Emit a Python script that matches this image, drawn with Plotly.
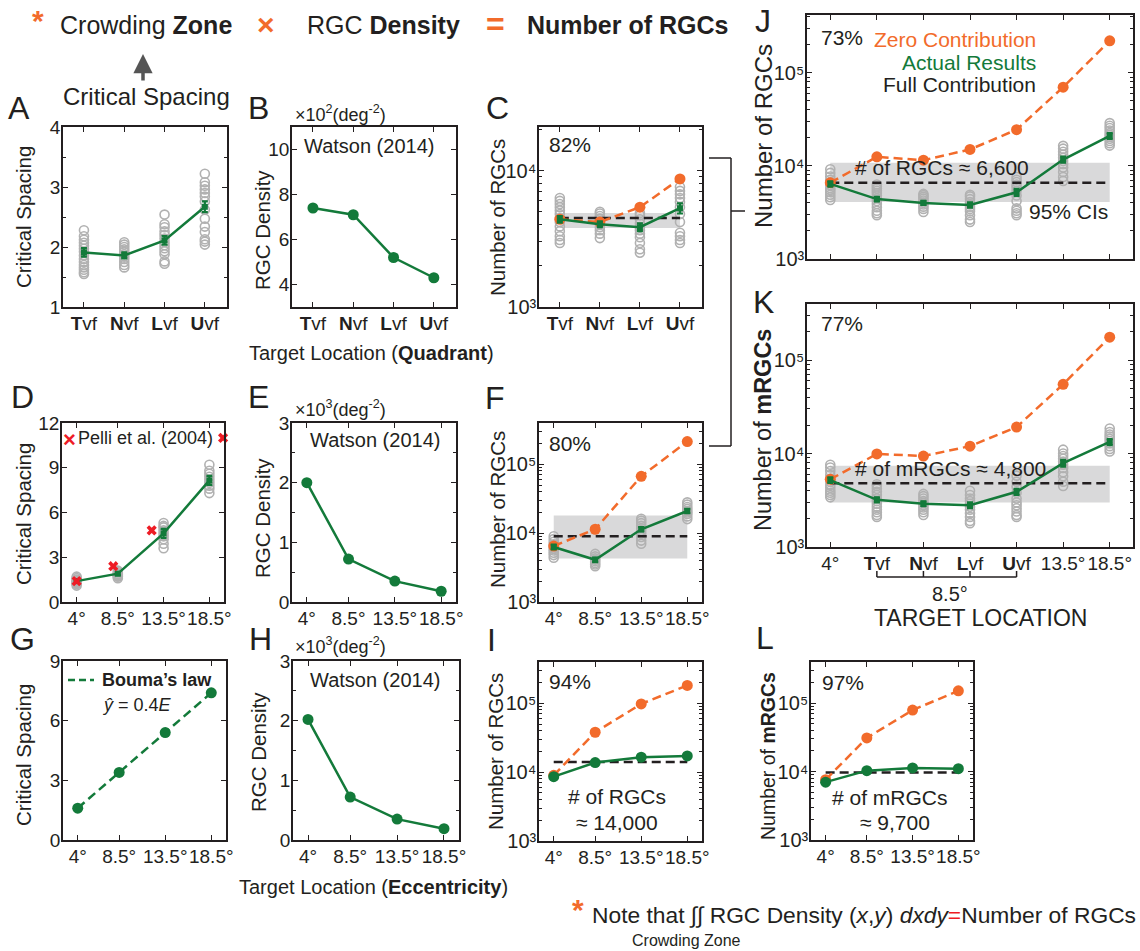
import plotly.graph_objects as go

W, H = 1140, 951
FONT = "Liberation Sans, Arial, Helvetica, sans-serif"
INK = "#231f20"
GREEN = "#137a3a"
ORANGE = "#f26b2b"
GRAY = "#b1b1b1"
BAND = "#d9d9da"
RED = "#ee1c25"

# ---------------- data ----------------
quad_pos = [1, 2, 3, 4]
quad_labels = ["<b>T</b>vf", "<b>N</b>vf", "<b>L</b>vf", "<b>U</b>vf"]
ecc = [4, 8.5, 13.5, 18.5]
ecc_labels = ["4°", "8.5°", "13.5°", "18.5°"]
all_pos = [1, 2, 3, 4, 5, 6, 7]
all_labels = ["4°"] + quad_labels + ["13.5°", "18.5°"]

# A: critical spacing by quadrant (deg)
a_obs = [
    [1.55, 1.58, 1.62, 1.66, 1.70, 1.75, 1.80, 1.86, 1.92, 1.97, 2.02, 2.07, 2.12, 2.18, 2.28],
    [1.66, 1.70, 1.75, 1.80, 1.84, 1.88, 1.92, 1.96, 2.00, 2.04, 2.08],
    [1.72, 1.76, 1.88, 1.93, 1.98, 2.03, 2.08, 2.14, 2.20, 2.26, 2.33, 2.38, 2.54],
    [2.04, 2.09, 2.13, 2.25, 2.34, 2.47, 2.62, 2.76, 2.84, 2.90, 2.96, 3.02, 3.08, 3.22],
]
a_mean = [1.91, 1.86, 2.11, 2.67]
a_err = [0.07, 0.05, 0.07, 0.09]

# B: RGC density by quadrant (x10^2 deg^-2)
b_density = [7.4, 7.1, 5.2, 4.3]

# C: number of RGCs by quadrant
c_obs = [
    [2950, 3100, 3300, 3600, 3900, 4200, 4500, 4800, 5100, 5400, 5700, 6000, 6300],
    [3200, 3450, 3650, 3850, 4050, 4250, 4450, 4650, 4850, 5000],
    [2500, 2650, 2950, 3250, 3450, 3650, 3850, 4100, 4400, 4700, 4900],
    [2950, 3100, 3300, 3500, 4200, 4800, 5400, 5900, 6300, 6700, 7100, 7600],
]
c_mean = [4400, 4050, 3850, 5300]
c_err = [250, 200, 250, 450]
c_zero = [4400, 4200, 5400, 8700]
c_bench = 4500
c_ci = [3800, 4900]

# D: critical spacing by eccentricity (deg)
d_obs = [
    [1.10, 1.20, 1.25, 1.30, 1.35, 1.40, 1.50, 1.60, 1.70],
    [1.60, 1.70, 1.75, 1.80, 1.85, 1.90, 2.00, 2.10],
    [3.60, 3.90, 4.20, 4.40, 4.60, 4.80, 5.00, 5.10, 5.30],
    [7.30, 7.60, 7.80, 8.00, 8.20, 8.40, 8.60, 8.80, 9.20],
]
d_mean = [1.40, 1.90, 4.60, 8.15]
d_err = [0.12, 0.10, 0.30, 0.30]
pelli_ecc = [4, 8, 12.2, 20]
pelli_spacing = [1.4, 2.4, 4.8, 11.0]

# E / H: RGC density by eccentricity (x10^3 deg^-2)
e_density = [2.0, 0.72, 0.35, 0.18]
h_density = [2.02, 0.72, 0.35, 0.19]

# F: number of RGCs by eccentricity
f_obs = [
    [4400, 4800, 5200, 5600, 6000, 6400, 6900, 7500, 8200, 9000],
    [3300, 3500, 3700, 3900, 4100, 4300, 4600, 5000],
    [7000, 7800, 8800, 9800, 10800, 11800, 12800, 14000, 15200, 16200],
    [16000, 17500, 19000, 20000, 21000, 22500, 24000, 26000, 28000],
]
f_mean = [6300, 4100, 11400, 21000]
f_err = [500, 300, 800, 1500]
f_zero = [6500, 11400, 67000, 214000]
f_bench = 9000
f_ci = [4300, 18000]

# G: Bouma's law
g_bouma = [1.6, 3.4, 5.4, 7.4]

# I: number of RGCs (Bouma)
i_zero = [9000, 38000, 98000, 182000]
i_actual = [8600, 13800, 16500, 17200]
i_bench = 14000

# J: number of RGCs, all locations
j_obs = [
    [4300, 4600, 4900, 5200, 5500, 5800, 6200, 6600, 7100, 7700, 8400, 9200],
] + c_obs + [
    [6900, 7600, 8600, 9600, 10500, 11300, 12200, 13200, 14200, 15300, 16400],
    [16500, 17500, 18500, 19500, 20500, 21500, 22500, 24000, 25500, 27000, 28800],
]
j_mean = [6400, 4400, 4000, 3800, 5200, 11700, 21000]
j_err = [400, 250, 200, 250, 450, 900, 1500]
j_zero = [6600, 12500, 11500, 15000, 24500, 70000, 220000]
j_bench = 6600
j_ci = [4100, 10800]

# K: number of mRGCs, all locations
k_obs = [
    [3400, 3600, 3800, 4000, 4300, 4600, 5000, 5400, 5900, 6500, 7100, 7600],
    [2100, 2200, 2350, 2500, 2700, 2900, 3100, 3300, 3600, 3900, 4200, 4500, 4700],
    [2200, 2350, 2500, 2650, 2800, 2950, 3100, 3300, 3500, 3700],
    [1800, 1900, 2100, 2300, 2500, 2700, 2900, 3100, 3300, 3600, 4000],
    [2100, 2200, 2400, 2600, 2800, 3000, 3300, 3800, 4400, 5000, 5800],
    [4500, 5000, 5700, 6300, 7000, 7600, 8200, 8800, 9400, 10000, 11000],
    [10500, 11200, 12000, 12800, 13600, 14400, 15200, 16000, 17000, 18500],
]
k_mean = [5200, 3200, 2900, 2800, 3900, 7900, 13300]
k_err = [350, 200, 170, 200, 300, 650, 1000]
k_zero = [5300, 9900, 9400, 12000, 19200, 55000, 176000]
k_bench = 4800
k_ci = [3000, 7400]

# L: number of mRGCs (Bouma)
l_zero = [7600, 31000, 79000, 151000]
l_actual = [7000, 10300, 11300, 11000]
l_bench = 9700

LOGV = [1e3, 1e4, 1e5]
LOGT = ["10³", "10⁴", "10⁵"]

# ---------------- layout helpers ----------------
boxes = {
    1: (63, 227, 127, 307), 2: (292, 456, 127, 307), 3: (539, 702, 127, 307),
    4: (62, 224, 423, 602), 5: (292, 456, 423, 602), 6: (539, 702, 423, 602),
    7: (63, 226, 661, 840), 8: (293, 459, 661, 840), 9: (539, 702, 662, 841),
    10: (807, 1133, 15, 259), 11: (807, 1133, 304, 547), 12: (811, 973, 662, 840),
}

fig = go.Figure()


def px(x):
    return x / W


def py(y):
    return 1 - y / H


def ax_names(i):
    s = "" if i == 1 else str(i)
    return "x" + s, "y" + s, "xaxis" + s, "yaxis" + s


def common():
    return dict(showline=True, linecolor=INK, linewidth=1.5, mirror="ticks",
                ticks="inside", ticklen=5, tickwidth=1.2, tickcolor=INK,
                showgrid=False, zeroline=False, tickangle=0,
                tickfont=dict(size=19, color=INK, family=FONT))


def log_minor(lo, hi):
    return [m * 10 ** e for e in range(3, 6) for m in range(2, 10) if lo <= m * 10 ** e <= hi]


def set_axes(i, xrange, yrange, xvals, xtext, yvals, ytext=None, ylog=False,
             yminor=None, ysuffix="", xlabels=True):
    xn, yn, xk, yk = ax_names(i)
    x0, x1, y0, y1 = boxes[i]
    xa = common()
    xa.update(domain=[px(x0), px(x1)], range=xrange, anchor=yn,
              tickmode="array", tickvals=xvals, ticktext=xtext,
              showticklabels=xlabels, ticklabelstandoff=-2)
    ya = common()
    ya.update(domain=[py(y1), py(y0)], range=yrange, anchor=xn,
              type="log" if ylog else "linear", tickmode="array",
              tickvals=yvals, ticksuffix=ysuffix, ticklabelstandoff=-3)
    if ylog:
        ya["tickfont"] = dict(size=20, color=INK, family=FONT)
    if ytext is not None:
        ya["ticktext"] = ytext
    if yminor is not None:
        ya["minor"] = dict(tickmode="array", tickvals=yminor, ticks="inside",
                           ticklen=3, tickwidth=1, tickcolor=INK)
    fig.update_layout({xk: xa, yk: ya})


def add(tr, i):
    xn, yn, _, _ = ax_names(i)
    tr.update(xaxis=xn, yaxis=yn, showlegend=False, hoverinfo="skip")
    fig.add_trace(tr)


def obs_trace(pos, groups, i):
    xs, ys = [], []
    for p, g in zip(pos, groups):
        xs += [p] * len(g)
        ys += g
    add(go.Scatter(x=xs, y=ys, mode="markers",
                   marker=dict(symbol="circle-open", size=9, color=GRAY,
                               line=dict(width=1.6, color=GRAY))), i)


def band_trace(xa, xb, ci, i):
    add(go.Scatter(x=[xa, xb, xb, xa], y=[ci[0], ci[0], ci[1], ci[1]],
                   mode="none", fill="toself", fillcolor=BAND), i)


def bench_trace(xa, xb, v, i):
    add(go.Scatter(x=[xa, xb], y=[v, v], mode="lines",
                   line=dict(color=INK, width=2.5, dash="9px,5px")), i)


def zero_trace(x, y, i):
    add(go.Scatter(x=x, y=y, mode="lines+markers",
                   line=dict(color=ORANGE, width=2.5, dash="9px,5px"),
                   marker=dict(symbol="circle", size=11, color=ORANGE)), i)


def mean_trace(x, y, err, i):
    add(go.Scatter(x=x, y=y, mode="lines+markers",
                   line=dict(color=GREEN, width=2.5),
                   marker=dict(symbol="square", size=6, color=GREEN),
                   error_y=dict(type="data", array=err, color=GREEN,
                                thickness=2.2, width=3)), i)


def dot_trace(x, y, i, dash=None):
    add(go.Scatter(x=x, y=y, mode="lines+markers",
                   line=dict(color=GREEN, width=2.5, dash=dash),
                   marker=dict(symbol="circle", size=11, color=GREEN)), i)


QX = [0.48, 4.55]
EX = [2.4, 20.1]

# A
set_axes(1, QX, [1, 4], quad_pos, quad_labels, [1, 2, 3, 4], ysuffix="°",
         yminor=[1.5, 2.5, 3.5])
obs_trace(quad_pos, a_obs, 1)
mean_trace(quad_pos, a_mean, a_err, 1)

# B
set_axes(2, QX, [3, 11], quad_pos, quad_labels, [4, 6, 8, 10])
dot_trace(quad_pos, b_density, 2)

# C
set_axes(3, QX, [3, 4.32], quad_pos, quad_labels, LOGV[:2], LOGT[:2], ylog=True,
         yminor=log_minor(1e3, 2.1e4))
band_trace(quad_pos[0], quad_pos[-1], c_ci, 3)
obs_trace(quad_pos, c_obs, 3)
bench_trace(quad_pos[0], quad_pos[-1], c_bench, 3)
zero_trace(quad_pos, c_zero, 3)
mean_trace(quad_pos, c_mean, c_err, 3)

# D
set_axes(4, EX, [0, 12], ecc, ecc_labels, [0, 3, 6, 9, 12], ysuffix="°")
obs_trace(ecc, d_obs, 4)
mean_trace(ecc, d_mean, d_err, 4)
add(go.Scatter(x=pelli_ecc, y=pelli_spacing, mode="markers", cliponaxis=False,
               marker=dict(symbol="x", size=9, color=RED, line=dict(width=0))), 4)

# E
set_axes(5, EX, [0, 3], ecc, ecc_labels, [0, 1, 2, 3], yminor=[0.5, 1.5, 2.5])
dot_trace(ecc, e_density, 5)

# F
set_axes(6, EX, [3, 5.6], ecc, ecc_labels, LOGV, LOGT, ylog=True,
         yminor=log_minor(1e3, 4e5))
band_trace(ecc[0], ecc[-1], f_ci, 6)
obs_trace(ecc, f_obs, 6)
bench_trace(ecc[0], ecc[-1], f_bench, 6)
zero_trace(ecc, f_zero, 6)
mean_trace(ecc, f_mean, f_err, 6)

# G
set_axes(7, EX, [0, 9], ecc, ecc_labels, [0, 3, 6, 9], ysuffix="°")
dot_trace(ecc, g_bouma, 7, dash="9px,5px")

# H
set_axes(8, EX, [0, 3], ecc, ecc_labels, [0, 1, 2, 3], yminor=[0.5, 1.5, 2.5])
dot_trace(ecc, h_density, 8)

# I
set_axes(9, EX, [3, 5.6], ecc, ecc_labels, LOGV, LOGT, ylog=True,
         yminor=log_minor(1e3, 4e5))
bench_trace(ecc[0], ecc[-1], i_bench, 9)
zero_trace(ecc, i_zero, 9)
dot_trace(ecc, i_actual, 9)

# J
set_axes(10, [0.5, 7.5], [3, 5.62], all_pos, all_labels, LOGV, LOGT, ylog=True,
         yminor=log_minor(1e3, 4e5), xlabels=False)
band_trace(all_pos[0], all_pos[-1], j_ci, 10)
obs_trace(all_pos, j_obs, 10)
bench_trace(all_pos[0], all_pos[-1], j_bench, 10)
zero_trace(all_pos, j_zero, 10)
mean_trace(all_pos, j_mean, j_err, 10)

# K
set_axes(11, [0.5, 7.5], [3, 5.6], all_pos, all_labels, LOGV, LOGT, ylog=True,
         yminor=log_minor(1e3, 4e5))
band_trace(all_pos[0], all_pos[-1], k_ci, 11)
obs_trace(all_pos, k_obs, 11)
bench_trace(all_pos[0], all_pos[-1], k_bench, 11)
zero_trace(all_pos, k_zero, 11)
mean_trace(all_pos, k_mean, k_err, 11)

# L
set_axes(12, EX, [3, 5.6], ecc, ecc_labels, LOGV, LOGT, ylog=True,
         yminor=log_minor(1e3, 4e5))
bench_trace(ecc[0], ecc[-1], l_bench, 12)
zero_trace(ecc, l_zero, 12)
dot_trace(ecc, l_actual, 12)

# ---------------- text ----------------
ann = []


def txt(x, y, text, size=20, color=INK, xa="center", ya="middle", angle=0):
    ann.append(dict(x=px(x), y=py(y), xref="paper", yref="paper", text=text,
                    showarrow=False, xanchor=xa, yanchor=ya, textangle=angle,
                    font=dict(size=size, color=color, family=FONT)))


# panel letters
for letter, x, y in [("A", 19, 108), ("B", 258, 108), ("C", 497, 108),
                     ("D", 22, 397), ("E", 258, 397), ("F", 495, 398),
                     ("G", 22, 639), ("H", 260, 639), ("I", 491, 640),
                     ("J", 763, 21), ("K", 763, 302), ("L", 765, 638)]:
    txt(x, y, letter, size=32)

# header
txt(38, 21, "<b>*</b>", size=30, color=ORANGE)
txt(58, 25, "Crowding <b>Zone</b>", size=25, xa="left")
txt(266, 25, "<b>×</b>", size=30, color=ORANGE)
txt(305, 25, "RGC <b>Density</b>", size=25, xa="left")
txt(495, 24, "<b>=</b>", size=32, color=ORANGE)
txt(525, 25, "<b>Number of RGCs</b>", size=25, xa="left")
txt(146, 96, "Critical Spacing", size=24)
ann.append(dict(x=px(143), y=py(54), xref="paper", yref="paper", ax=0, ay=28,
                axref="pixel", ayref="pixel", showarrow=True, arrowhead=2,
                arrowsize=1.1, arrowwidth=3.5, arrowcolor="#555555", text=""))

# y-axis titles
txt(23, 217, "Critical Spacing", size=20.5, angle=-90)
txt(262, 230, "RGC Density", size=20.5, angle=-90)
txt(497, 218, "Number of RGCs", size=20.5, angle=-90)
txt(23, 514, "Critical Spacing", size=20.5, angle=-90)
txt(262, 518, "RGC Density", size=20.5, angle=-90)
txt(497, 510, "Number of RGCs", size=20.5, angle=-90)
txt(23, 755, "Critical Spacing", size=20.5, angle=-90)
txt(258, 752, "RGC Density", size=20.5, angle=-90)
txt(495, 752, "Number of RGCs", size=20.5, angle=-90)
txt(763, 136, "Number of RGCs", size=24, angle=-90)
txt(763, 430, "Number of <b>mRGCs</b>", size=23.5, angle=-90)
txt(768, 756, "Number of <b>mRGCs</b>", size=19.5, angle=-90)

# x-axis titles
txt(371, 353, "Target Location (<b>Quadrant</b>)", size=20)
txt(373, 887, "Target Location (<b>Eccentricity</b>)", size=20)
txt(950, 594, "8.5°", size=20)
txt(980, 618, "TARGET LOCATION", size=23)

# unit labels
txt(293, 113, "×10<sup>2</sup>(deg<sup>-2</sup>)", size=18, xa="left")
txt(293, 408, "×10<sup>3</sup>(deg<sup>-2</sup>)", size=18, xa="left")
txt(293, 645, "×10<sup>3</sup>(deg<sup>-2</sup>)", size=18, xa="left")
txt(369, 146, "Watson (2014)", size=20)
txt(375, 440, "Watson (2014)", size=20)
txt(375, 680, "Watson (2014)", size=20)

# percentages
txt(547, 145, "82%", size=21, xa="left")
txt(547, 443, "80%", size=21, xa="left")
txt(547, 681, "94%", size=21, xa="left")
txt(820, 682, "97%", size=21, xa="left")
txt(819, 38, "73%", size=21, xa="left")
txt(819, 323, "77%", size=21, xa="left")

# J legend text
txt(1038, 40, "Zero Contribution", size=21, color=ORANGE, xa="right")
txt(1038, 62, "Actual Results", size=21, color=GREEN, xa="right")
txt(1038, 84, "Full Contribution", size=21, xa="right")
txt(853, 167, "# of RGCs ≈ 6,600", size=21, xa="left")
txt(1110, 212, "95% CIs", size=21, xa="right")
txt(853, 468, "# of mRGCs ≈ 4,800", size=21, xa="left")

# I / L
txt(617, 796, "# of RGCs", size=21)
txt(617, 822, "≈ 14,000", size=21)
txt(890, 797, "# of mRGCs", size=21)
txt(895, 822, "≈ 9,700", size=21)

# D legend
txt(69, 439, "<b>×</b>", size=22, color=RED)
txt(76, 438, "Pelli et al. (2004)", size=18, xa="left")

# G legend
txt(100, 680, "<b>Bouma’s law</b>", size=18, xa="left")
txt(100, 705, "<i>ŷ</i> = 0.4<i>E</i>", size=18, xa="left")

# bottom note
txt(578, 909, "<b>*</b>", size=30, color=ORANGE)
txt(590, 915, "Note that ∫∫ RGC Density (<i>x</i>,<i>y</i>) <i>dxdy</i>"
    "<span style='color:" + RED + "'>=</span>Number of RGCs", size=22.8, xa="left")
txt(630, 940, "Crowding Zone", size=16, xa="left")

# ---------------- shapes ----------------
shapes = []


def pline(x0, y0, x1, y1, color=INK, width=1.5, dash=None):
    shapes.append(dict(type="line", xref="paper", yref="paper",
                       x0=px(x0), y0=py(y0), x1=px(x1), y1=py(y1),
                       line=dict(color=color, width=width, dash=dash)))


pline(709, 158, 731, 158)
pline(731, 158, 731, 446)
pline(709, 446, 731, 446)
pline(731, 211, 745, 211)
pline(68, 680, 94, 680, color=GREEN, width=2.5, dash="7px,4px")

# K bracket under quadrant labels
shapes.append(dict(type="line", xref="x11", yref="paper", x0=all_pos[1], x1=all_pos[4],
                   y0=py(577), y1=py(577), line=dict(color=INK, width=1.5)))
for p in all_pos[1:5]:
    shapes.append(dict(type="line", xref="x11", yref="paper", x0=p, x1=p,
                       y0=py(577), y1=py(571), line=dict(color=INK, width=1.5)))

fig.update_layout(width=W, height=H,
                  margin=dict(l=0, r=0, t=0, b=0, pad=0, autoexpand=False),
                  paper_bgcolor="white", plot_bgcolor="white",
                  font=dict(family=FONT, color=INK), showlegend=False,
                  annotations=ann, shapes=shapes)

fig.write_html(
    "out.html",
    config={"displayModeBar": False},
    post_script=("document.documentElement.style.margin='0';"
                 "document.documentElement.style.overflow='hidden';"
                 "document.body.style.margin='0';"
                 "document.body.style.overflow='hidden';"),
)
